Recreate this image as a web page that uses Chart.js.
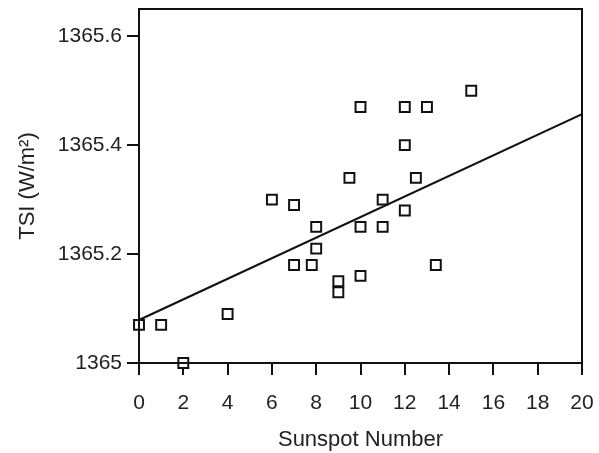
<!DOCTYPE html>
<html>
<head>
<meta charset="utf-8">
<script src="https://cdn.jsdelivr.net/npm/chart.js@4.4.1/dist/chart.umd.min.js"></script>
<style>
  body { margin: 0; background: #fff; }
  #wrap { width: 599px; height: 453px; }
</style>
</head>
<body>
<div id="wrap"><canvas id="tsi"></canvas></div>
<script>
// sunspot number vs total solar irradiance
var sunspots = [0, 1, 2, 4, 6, 7, 7, 7.8, 8, 8, 9, 9, 9.5, 10, 10, 10, 11, 11, 12, 12, 12, 12.5, 13, 13.4, 15];
var tsi = [1365.07, 1365.07, 1365.00, 1365.09, 1365.30, 1365.29, 1365.18, 1365.18, 1365.25, 1365.21,
           1365.15, 1365.13, 1365.34, 1365.47, 1365.25, 1365.16, 1365.30, 1365.25, 1365.47, 1365.40,
           1365.28, 1365.34, 1365.47, 1365.18, 1365.50];

// regression line ends
var fitX = [0, 20];
var fitY = [1365.079, 1365.457];

var xTicks = [0, 2, 4, 6, 8, 10, 12, 14, 16, 18, 20];
var yTicks = [1365, 1365.2, 1365.4, 1365.6];

var pts = sunspots.map(function (s, i) { return {x: s, y: tsi[i]}; });
var fit = fitX.map(function (s, i) { return {x: s, y: fitY[i]}; });

var ink = '#111';
var font = "'Liberation Sans', Arial, sans-serif";

// closed frame round the plot area
var frame = {
  id: 'frame',
  afterDatasetsDraw: function (chart) {
    var a = chart.chartArea, c = chart.ctx;
    c.save();
    c.strokeStyle = ink;
    c.lineWidth = 2;
    c.strokeRect(a.left, a.top, a.right - a.left, a.bottom - a.top);
    c.restore();
  }
};

new Chart(document.getElementById('tsi'), {
  type: 'scatter',
  data: {
    datasets: [
      {
        data: pts,
        pointStyle: 'rect',
        pointRadius: 7,
        pointHoverRadius: 7,
        pointBackgroundColor: '#fff',
        pointBorderColor: ink,
        pointBorderWidth: 2,
        clip: false,
        order: 1
      },
      {
        type: 'line',
        data: fit,
        borderColor: ink,
        borderWidth: 2,
        pointRadius: 0,
        fill: false,
        order: 2
      }
    ]
  },
  plugins: [frame],
  options: {
    responsive: true,
    maintainAspectRatio: false,
    animation: false,
    layout: { padding: { top: 8, right: 17, left: 0, bottom: 0 } },
    plugins: { legend: { display: false }, tooltip: { enabled: false } },
    scales: {
      x: {
        type: 'linear',
        min: 0,
        max: 20,
        afterFit: function (s) {
          s.height = 90;
          s.paddingLeft = 0;
          s.paddingRight = 0;
        },
        afterBuildTicks: function (s) { s.ticks = xTicks.map(function (v) { return {value: v}; }); },
        grid: { drawOnChartArea: false, tickLength: 12, color: ink, lineWidth: 2 },
        border: { color: ink, width: 2 },
        ticks: { color: '#222', padding: 16, maxRotation: 0, font: { family: font, size: 21 } },
        title: {
          display: true,
          text: 'Sunspot Number',
          color: '#222',
          padding: { top: 0, bottom: 0 },
          font: { family: font, size: 22 }
        }
      },
      y: {
        min: 1365,
        max: 1365.65,
        afterFit: function (s) {
          s.width = 139;
          s.paddingTop = 0;
          s.paddingBottom = 0;
        },
        afterBuildTicks: function (s) { s.ticks = yTicks.map(function (v) { return {value: v}; }); },
        grid: { drawOnChartArea: false, tickLength: 12, color: ink, lineWidth: 2 },
        border: { color: ink, width: 2 },
        ticks: {
          color: '#222',
          padding: 5,
          font: { family: font, size: 21 },
          callback: function (v) { return String(+v.toFixed(1)); }
        },
        title: {
          display: true,
          text: 'TSI (W/m²)',
          color: '#222',
          padding: { top: 15, bottom: 0 },
          font: { family: font, size: 22 }
        }
      }
    }
  }
});
</script>
</body>
</html>
